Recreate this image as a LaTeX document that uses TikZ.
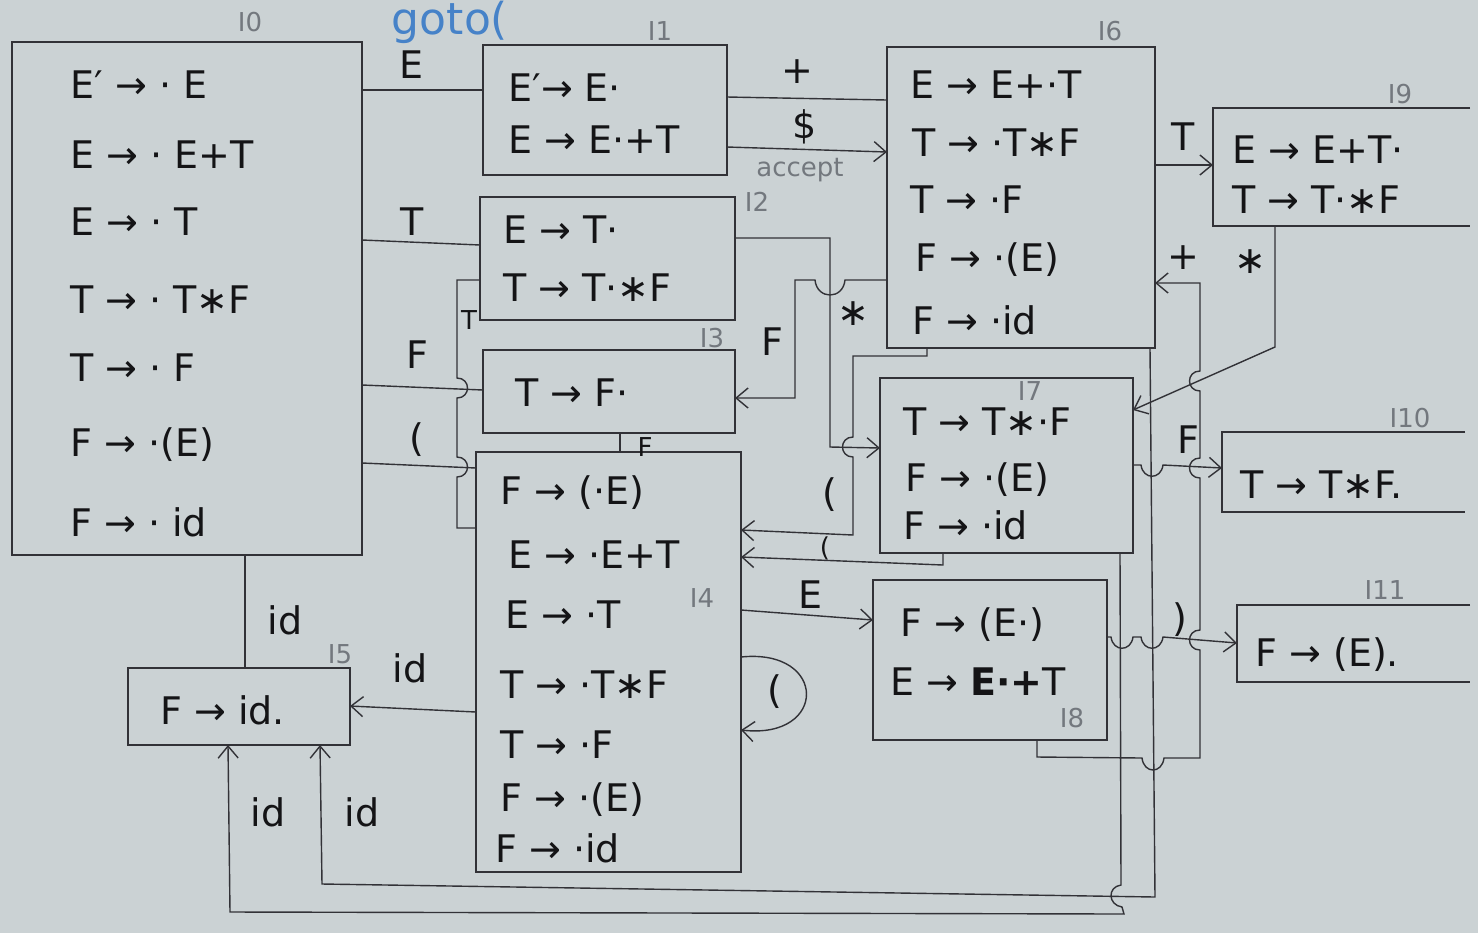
\documentclass[tikz,border=0pt]{standalone}
\usepackage{fontspec}
\setmainfont{DejaVu Sans}
\usetikzlibrary{arrows.meta}
\definecolor{paper}{RGB}{203,210,212}
\definecolor{ink}{RGB}{50,50,55}
\definecolor{txt}{RGB}{20,20,22}
\definecolor{pencil}{RGB}{115,120,126}
\definecolor{bluepen}{RGB}{70,130,200}
\newcommand\itemfont{\fontsize{19}{22}\selectfont}
\newcommand\lblfont{\fontsize{19}{22}\selectfont}
\newcommand\smlfont{\fontsize{13}{15}\selectfont}
\newcommand\tagfont{\fontsize{13}{15}\selectfont}
\newcommand\mkstate[5]{\node[box, minimum width={(#4-#2)*0.5pt}, minimum height={(#5-#3)*0.5pt}] (#1) at (#2,#3) {};}
\newcommand\mkopen[5]{\node[box, draw=none, minimum width={(#4-#2)*0.5pt}, minimum height={(#5-#3)*0.5pt}] (#1) at (#2,#3) {};
  \draw[boxline] (#1.north east) -- (#1.north west) -- (#1.south west) -- (#1.south east);}
\tikzset{
  box/.style={draw=ink, line width=0.8pt, inner sep=0pt, outer sep=0pt, anchor=north west},
  boxline/.style={draw=ink, line width=0.8pt},
  item/.style={anchor=west, font=\itemfont, text=txt, inner sep=0pt},
  lbl/.style={font=\lblfont, text=txt, inner sep=0pt},
  smlbl/.style={font=\smlfont, text=txt, inner sep=0pt},
  tag/.style={font=\tagfont, text=pencil, inner sep=0pt},
  conn/.style={draw=ink, line width=0.7pt},
  arr/.style={conn, -{Straight Barb[length=6pt,width=10pt]}}
}
\begin{document}
\begin{tikzpicture}[x=0.5pt,y=-0.5pt]
\fill[paper] (0,0) rectangle (1478,933);
\useasboundingbox (0,0) rectangle (1478,933);

% ---------- states ----------
\mkstate{I0}{12}{42}{362}{555}
\mkstate{I1}{483}{45}{727}{175}
\mkstate{I2}{480}{197}{735}{320}
\mkstate{I3}{483}{350}{735}{433}
\mkstate{I4}{476}{452}{741}{872}
\mkstate{I5}{128}{668}{350}{745}
\mkstate{I6}{887}{47}{1155}{348}
\mkstate{I7}{880}{378}{1133}{553}
\mkstate{I8}{873}{580}{1107}{740}
\mkopen{I9}{1213}{108}{1470}{226}
\mkopen{I10}{1222}{432}{1465}{512}
\mkopen{I11}{1237}{605}{1470}{682}

% ---------- state tags ----------
\node[tag] (t0) at (250,22) {I0};
\node[tag] (t1) at (660,31) {I1};
\node[tag] (t2) at (757,202) {I2};
\node[tag] (t3) at (712,338) {I3};
\node[tag] (t4) at (702,598) {I4};
\node[tag] (t5) at (340,654) {I5};
\node[tag] (t6) at (1110,31) {I6};
\node[tag] (t7) at (1030,391) {I7};
\node[tag] (t8) at (1072,718) {I8};
\node[tag] (t9) at (1400,94) {I9};
\node[tag] (t10) at (1410,418) {I10};
\node[tag] (t11) at (1385,590) {I11};
\node[font=\fontsize{22}{24}\selectfont, text=bluepen, inner sep=0pt] (gt) at (450,22) {goto(};

% ---------- items ----------
\node[item] (i0a) at (70,85)  {E′ → · E};
\node[item] (i0b) at (70,155) {E → · E+T};
\node[item] (i0c) at (70,222) {E → · T};
\node[item] (i0d) at (70,300) {T → · T∗F};
\node[item] (i0e) at (70,368) {T → · F};
\node[item] (i0f) at (70,445) {F → ·(E)};
\node[item] (i0g) at (70,522) {F → · id};

\node[item] (i1a) at (508,88)  {E′→ E·};
\node[item] (i1b) at (508,140) {E → E·+T};

\node[item] (i2a) at (503,230) {E → T·};
\node[item] (i2b) at (503,288) {T → T·∗F};

\node[item] (i3a) at (515,393) {T → F·};

\node[item] (i4a) at (500,493) {F → (·E)};
\node[item] (i4b) at (508,555) {E → ·E+T};
\node[item] (i4c) at (505,615) {E → ·T};
\node[item] (i4d) at (500,685) {T → ·T∗F};
\node[item] (i4e) at (500,745) {T → ·F};
\node[item] (i4f) at (500,800) {F → ·(E)};
\node[item] (i4g) at (495,848) {F → ·id};

\node[item] (i5a) at (160,710) {F → id.};

\node[item] (i6a) at (910,85)  {E → E+·T};
\node[item] (i6b) at (912,143) {T → ·T∗F};
\node[item] (i6c) at (910,200) {T → ·F};
\node[item] (i6d) at (915,260) {F → ·(E)};
\node[item] (i6e) at (912,320) {F → ·id};

\node[item] (i9a) at (1232,150) {E → E+T·};
\node[item] (i9b) at (1232,200) {T → T·∗F};

\node[item] (i7a) at (903,422) {T → T∗·F};
\node[item] (i7b) at (905,480) {F → ·(E)};
\node[item] (i7c) at (903,525) {F → ·id};

\node[item] (i10a) at (1240,485) {T → T∗F.};

\node[item] (i8a) at (900,625) {F → (E·)};
\node[item] (i8b) at (890,682) {E → \textbf{E·+}T};

\node[item] (i11a) at (1255,655) {F → (E).};

% ---------- connectors ----------
% I0 -E-> I1
\draw[conn] (I0.east |- 0,90) -- (I1.west |- 0,90);
\node[lbl] (lE) at (412,65) {E};
% I1 -+-> I6
\draw[conn] (I1.east |- 0,97) -- (I6.west |- 0,100);
\node[lbl] (lplus) at (797,72) {+};
% I1 -$-> (accept)
\draw[arr] (I1.east |- 0,147) -- (I6.west |- 0,152);
\node[lbl] (ldol) at (805,127) {\$};
\node[tag] (lacc) at (800,170) {accept};
% I0 -T-> I2
\draw[conn] (I0.east |- 0,240) -- (I2.west |- 0,245);
\node[lbl] (lT0) at (412,222) {T};
% I0 -F-> I3
\draw[conn] (I0.east |- 0,385) -- (I3.west |- 0,390);
\node[lbl] (lF0) at (417,355) {F};
% I0 -(-> I4
\draw[conn] (I0.east |- 0,463) -- (I4.west |- 0,468);
\node[lbl] (lP0) at (417,440) {(};
% I4 -T-> I2
\draw[conn] (I4.west |- 0,528) -- (457,528) -- (457,477)
   .. controls (471,477) and (471,457) .. (457,457) -- (457,398)
   .. controls (471,398) and (471,378) .. (457,378) -- (457,280) -- (I2.west |- 0,280);
\node[smlbl] (lT4) at (469,320) {T};
% I4 -F-> I3
\draw[conn] (I4.north -| 620,0) -- (I3.south -| 620,0);
\node[smlbl] (lF4) at (645,447) {F};
% I2 -*-> I7
\draw[arr] (I2.east |- 0,238) -- (830,238) -- (830,447) -- (I7.west |- 0,448);
\node[lbl] (lS2) at (853,314) {∗};
% I6 -F-> I3
\draw[arr] (I6.west |- 0,280) -- (845,280) .. controls (843,300) and (817,300) .. (815,280)
   -- (795,280) -- (795,398) -- (I3.east |- 0,398);
\node[lbl] (lF6) at (772,342) {F};
% I6 -(-> I4
\draw[arr] (I6.south -| 927,0) -- (927,356) -- (853,356) -- (853,437)
   .. controls (839,437) and (839,457) .. (853,457) -- (853,535) -- (I4.east |- 0,530);
\node[lbl] (lP6) at (830,495) {(};
% I7 -(-> I4
\draw[arr] (I7.south -| 943,0) -- (943,565) -- (I4.east |- 0,557);
\node[smlbl] (lP7) at (825,548) {(};
% I4 -E-> I8
\draw[arr] (I4.east |- 0,610) -- (I8.west |- 0,620);
\node[lbl] (lE4) at (810,595) {E};
% I4 -(-> I4
\draw[arr] (I4.east |- 0,657) .. controls (828,648) and (828,740) .. (I4.east |- 0,730);
\node[lbl] (lP4) at (775,692) {(};
% I4 -id-> I5
\draw[arr] (I4.west |- 0,712) -- (I5.east |- 0,706);
\node[lbl] (lid4) at (410,668) {id};
% I0 -id-> I5
\draw[conn] (I0.south -| 245,0) -- (I5.north -| 245,0);
\node[lbl] (lid0) at (285,620) {id};
% I6 -T-> I9
\draw[arr] (I6.east |- 0,165) -- (I9.west |- 0,165);
\node[lbl] (lT6) at (1183,137) {T};
% I9 -*-> I7
\draw[arr] (I9.south -| 1275,0) -- (1275,347) -- (I7.east |- 0,410);
\node[lbl] (lS9) at (1250,262) {∗};
% I8 -+-> I6
\draw[arr] (I8.south -| 1037,0) -- (1037,757) -- (1142,758)
   .. controls (1144,774) and (1162,774) .. (1164,758) -- (1200,758)
   -- (1200,650) .. controls (1186,650) and (1186,630) .. (1200,630)
   -- (1200,478) .. controls (1186,478) and (1186,458) .. (1200,458)
   -- (1200,391) .. controls (1186,391) and (1186,371) .. (1200,371)
   -- (1200,283) -- (I6.east |- 0,283);
\node[lbl] (lplus8) at (1183,258) {+};
% I7 -F-> I10
\draw[arr] (I7.east |- 0,465) -- (1141,465) .. controls (1143,480) and (1161,480) .. (1163,465)
   -- (I10.west |- 0,468);
\node[lbl] (lF7) at (1188,440) {F};
% I8 -)-> I11
\draw[arr] (I8.east |- 0,637) -- (1111,637) .. controls (1113,652) and (1131,652) .. (1133,637)
   -- (1141,637) .. controls (1143,652) and (1161,652) .. (1163,637) -- (I11.west |- 0,643);
\node[lbl] (lR8) at (1180,620) {)};
% I6 -id-> I5
\draw[arr] (I6.south -| 1150,0) -- (1155,897) -- (322,884) -- (I5.south -| 320,0);
\node[lbl] (lid6) at (362,812) {id};
% I7 -id-> I5
\draw[arr] (I7.south -| 1120,0) -- (1121,885) .. controls (1107,887) and (1108,905) .. (1122,907)
   -- (1124,914) -- (230,912) -- (I5.south -| 228,0);
\node[lbl] (lid7) at (268,812) {id};
\end{tikzpicture}
\end{document}
